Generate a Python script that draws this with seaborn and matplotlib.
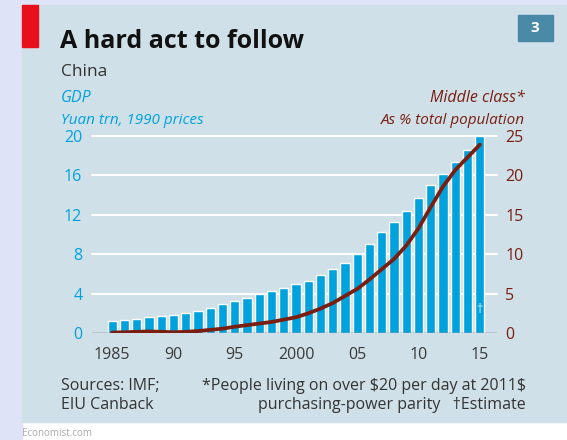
import numpy as np
import pandas as pd
import seaborn as sns
import matplotlib.pyplot as plt
from matplotlib.patches import Rectangle

# data
years = list(range(1985, 2016))
gdp = [1.19, 1.29, 1.42, 1.59, 1.69, 1.80, 2.00, 2.24, 2.54, 2.95,
       3.29, 3.56, 3.93, 4.24, 4.58, 4.98, 5.32, 5.90, 6.50, 7.15,
       8.00, 9.00, 10.3, 11.3, 12.4, 13.7, 15.0, 16.1, 17.4, 18.6, 20.0]
middle_class = [0.05, 0.1, 0.15, 0.2, 0.15, 0.1, 0.15, 0.25, 0.4, 0.55,
                0.8, 1.0, 1.2, 1.4, 1.7, 2.0, 2.5, 3.1, 3.8, 4.7,
                5.6, 6.8, 8.1, 9.4, 11.1, 13.3, 16.0, 18.6, 20.7, 22.3, 23.9]
left_ticks = [0, 4, 8, 12, 16, 20]
right_ticks = [0, 5, 10, 15, 20, 25]
year_ticks = [1985, 1990, 1995, 2000, 2005, 2010, 2015]
year_labels = ['1985', '90', '95', '2000', '05', '10', '15']

df = pd.DataFrame({'year': years, 'gdp': gdp, 'mc': middle_class})

BLUE = '#00a2dd'
BROWN = '#7a1e10'
PANEL = '#cfe0e8'
LAV = '#dfe3f7'

sns.set_style('white')
plt.rcParams['font.family'] = ['Open Sans', 'DejaVu Sans']

fig = plt.figure(figsize=(5.67, 4.40), dpi=100)
fig.patch.set_facecolor('white')
W, H = 567, 440

def px(x0, y0, w, h, **kw):
    fig.patches.append(Rectangle((x0 / W, 1 - (y0 + h) / H), w / W, h / H,
                                 transform=fig.transFigure, zorder=-5, **kw))

px(0, 0, W, 5, color=LAV)
px(0, 0, 22, H, color=LAV)
px(22, 5, W - 22, 417, color=PANEL)
px(22, 5, 16, 42, color='#e8101a')
px(518, 15, 35, 26, color='#4a8aa6')

def txt(x, y, s, **kw):
    fig.text(x / W, 1 - y / H, s, **kw)

txt(535, 28, '3', color='white', fontsize=11, fontweight='bold', ha='center', va='center')
txt(60, 41, 'A hard act to follow', fontsize=18, fontweight='bold', color='#111111', va='center')
txt(61, 72, 'China', fontsize=12.5, color='#333333', va='center')
txt(61, 98, 'GDP', fontsize=11.5, color=BLUE, style='italic', va='center')
txt(61, 121, 'Yuan trn, 1990 prices', fontsize=11, color=BLUE, style='italic', va='center')
txt(525, 98, 'Middle class*', fontsize=11.5, color=BROWN, style='italic', va='center', ha='right')
txt(525, 121, 'As % total population', fontsize=11, color=BROWN, style='italic', va='center', ha='right')
txt(61, 386, 'Sources: IMF;', fontsize=11.5, color='#333333', va='center')
txt(61, 405, 'EIU Canback', fontsize=11.5, color='#333333', va='center')
txt(526, 386, '*People living on over \\$20 per day at 2011\\$', fontsize=11.5,
    color='#333333', va='center', ha='right')
txt(526, 405, 'purchasing-power parity   \u2020Estimate', fontsize=11.5,
    color='#333333', va='center', ha='right')
txt(22, 433, 'Economist.com', fontsize=7, color='#aaaaaa', va='center')

ax = fig.add_axes([92 / W, 1 - 333 / H, 405 / W, 197 / H])
ax.set_facecolor('none')
sns.barplot(data=df, x='year', y='gdp', native_scale=True, color=BLUE,
            width=0.75, saturation=1, ax=ax, zorder=2)
ax.set_xlim(1983.35, 2016.4)
ax.set_ylim(0, 20)
ax.set_yticks(left_ticks)
ax.set_yticklabels([str(t) for t in left_ticks], color=BLUE, fontsize=11.5)
for t in left_ticks[1:]:
    ax.axhline(t, color='white', lw=1.5, zorder=1, clip_on=False)
ax.axhline(0, color='#555555', lw=1.0, zorder=4)
ax.text(2015, 2.4, '\u2020', color='#d8eef8', fontsize=9, ha='center', va='center', zorder=5)
ax.set_xticks(year_ticks)
ax.set_xticklabels(year_labels, fontsize=11.5, color='#3a3a3a')
ax.set_xticks(years, minor=True)
ax.tick_params(axis='x', which='major', length=7, width=1, color='#555555', pad=3)
ax.tick_params(axis='x', which='minor', length=5, width=0.8, color='#666666')
ax.tick_params(axis='y', length=0, pad=7)
ax.set_xlabel('')
ax.set_ylabel('')
for s in ax.spines.values():
    s.set_visible(False)

ax2 = ax.twinx()
sns.lineplot(data=df, x='year', y='mc', color=BROWN, lw=2.7, ax=ax2, zorder=3)
ax2.set_ylim(0, 25)
ax2.set_yticks(right_ticks)
ax2.set_yticklabels([str(t) for t in right_ticks], color=BROWN, fontsize=11.5)
ax2.tick_params(axis='y', length=0, pad=6)
ax2.set_ylabel('')
ax2.set_xlabel('')
for s in ax2.spines.values():
    s.set_visible(False)

fig.savefig('out.png', dpi=100, facecolor=fig.get_facecolor())
